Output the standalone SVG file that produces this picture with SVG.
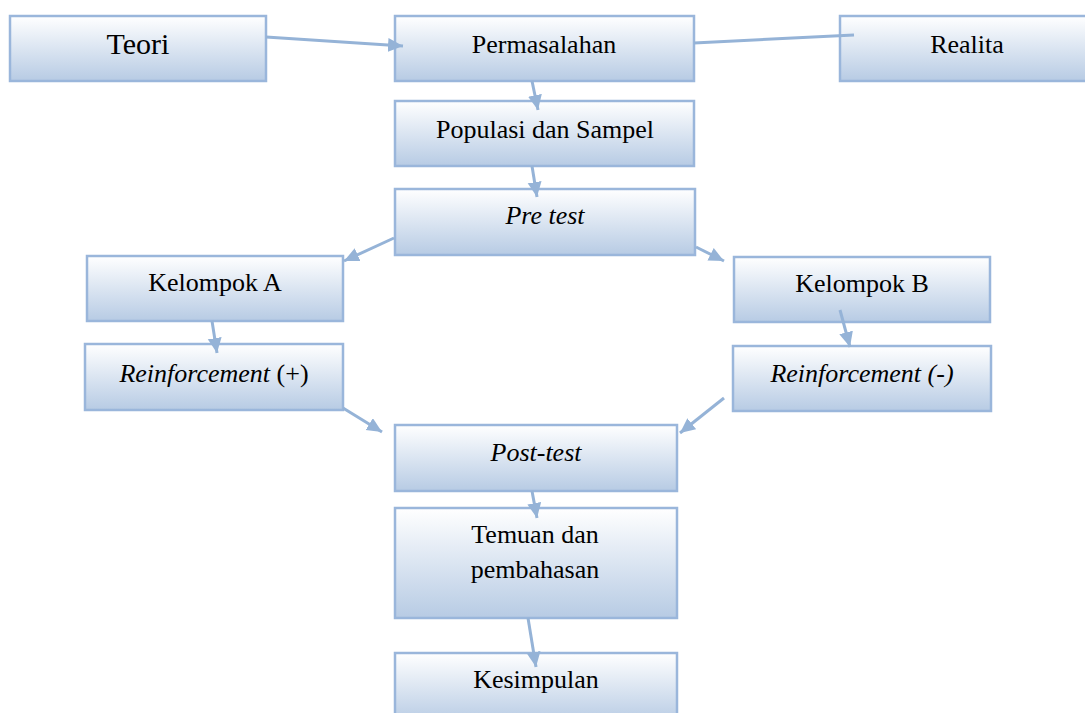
<svg xmlns="http://www.w3.org/2000/svg" width="1085" height="713" viewBox="0 0 1085 713">
<defs>
<linearGradient id="g" x1="0" y1="0" x2="0" y2="1">
<stop offset="0" stop-color="#ffffff"/>
<stop offset="1" stop-color="#b7cbe4"/>
</linearGradient>
<marker id="ah" markerUnits="userSpaceOnUse" markerWidth="16" markerHeight="15" refX="15" refY="7" orient="auto">
<path d="M0,0 L15,7 L0,14 z" fill="#95b3d7"/>
</marker>
<style>
.box{fill:url(#g);stroke:#9ab6db;stroke-width:2.5}
.t{font-family:"Liberation Serif","Times New Roman",serif;font-size:26px;fill:#000;text-anchor:middle}
.i{font-style:italic}
.c{stroke:#95b3d7;stroke-width:3;fill:none}
.a{marker-end:url(#ah)}
</style>
</defs>
<rect width="1085" height="713" fill="#fff"/>
<g id="teori"><rect class="box" x="10" y="16" width="256" height="65"/><text class="t" x="138" y="54" style="font-size:30px">Teori</text></g>
<g id="permasalahan"><rect class="box" x="395" y="16" width="299" height="65"/><text class="t" x="544" y="53">Permasalahan</text></g>
<g id="realita"><rect class="box" x="840" y="16" width="256" height="65"/><text class="t" x="967" y="53">Realita</text></g>
<g id="populasi"><rect class="box" x="395" y="101" width="299" height="65"/><text class="t" x="545" y="138">Populasi dan Sampel</text></g>
<g id="pretest"><rect class="box" x="395" y="189" width="300" height="66"/><text class="t i" x="545" y="224">Pre test</text></g>
<g id="kelompokA"><rect class="box" x="87" y="256" width="256" height="65"/><text class="t" x="215" y="291">Kelompok A</text></g>
<g id="kelompokB"><rect class="box" x="734" y="257" width="256" height="65"/><text class="t" x="862" y="292">Kelompok B</text></g>
<g id="reinfPlus"><rect class="box" x="85" y="344" width="258" height="66"/><text class="t" x="214" y="382"><tspan class="i">Reinforcement</tspan> (+)</text></g>
<g id="reinfMinus"><rect class="box" x="733" y="346" width="258" height="65"/><text class="t i" x="862" y="382">Reinforcement (-)</text></g>
<g id="posttest"><rect class="box" x="395" y="425" width="282" height="66"/><text class="t i" x="536" y="461">Post-test</text></g>
<g id="temuan"><rect class="box" x="395" y="508" width="282" height="110"/><text class="t" x="535" y="543">Temuan dan</text><text class="t" x="535" y="578">pembahasan</text></g>
<g id="kesimpulan"><rect class="box" x="395" y="653" width="282" height="70"/><text class="t" x="536" y="688">Kesimpulan</text></g>
<g id="connectors">
<line class="c a" x1="266" y1="37" x2="403" y2="46"/>
<line class="c" x1="694" y1="43" x2="854" y2="35"/>
<line class="c a" x1="532" y1="81" x2="538" y2="110"/>
<line class="c a" x1="532" y1="166" x2="537" y2="197"/>
<line class="c a" x1="394" y1="238" x2="344" y2="261"/>
<line class="c a" x1="696" y1="247" x2="724" y2="261"/>
<line class="c a" x1="212" y1="321" x2="217" y2="353"/>
<line class="c a" x1="840" y1="310" x2="850" y2="347"/>
<line class="c a" x1="343" y1="408" x2="382" y2="432"/>
<line class="c a" x1="724" y1="398" x2="680" y2="433"/>
<line class="c a" x1="532" y1="491" x2="537" y2="518"/>
<line class="c a" x1="528" y1="618" x2="536" y2="667"/>
</g>
</svg>
